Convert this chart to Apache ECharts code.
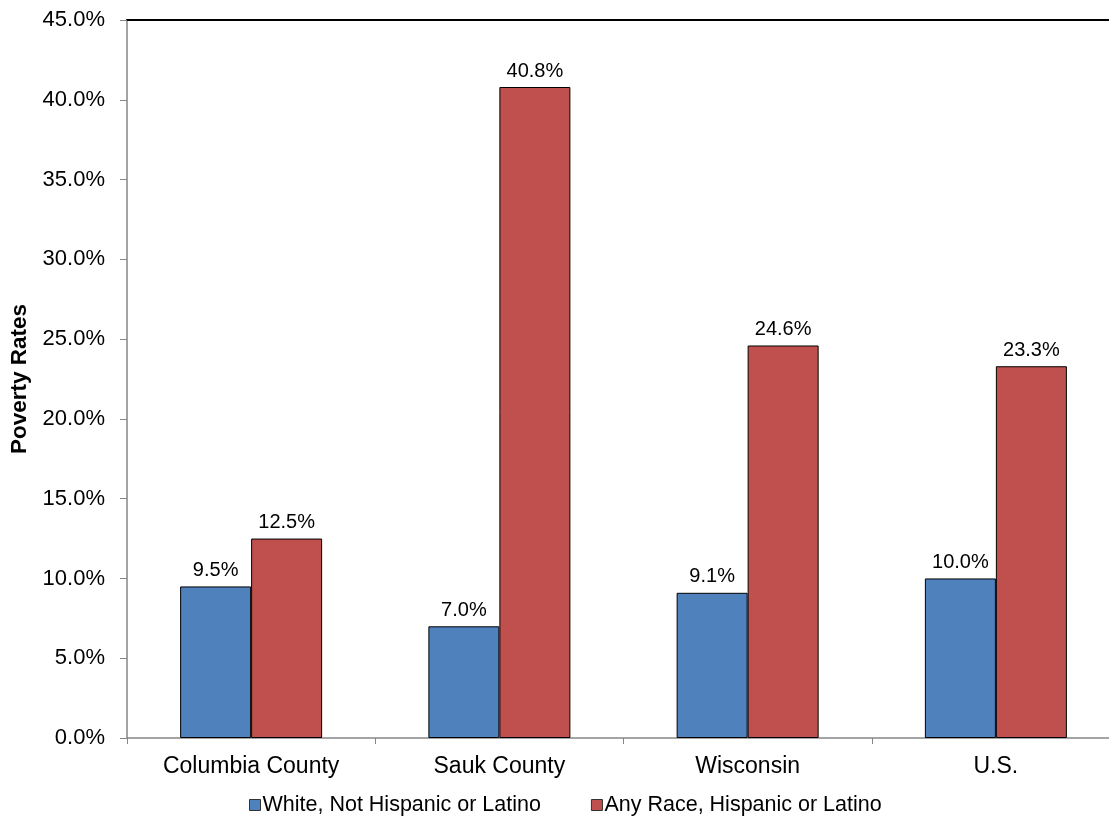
<!DOCTYPE html>
<html>
<head>
<meta charset="utf-8">
<script src="https://cdn.jsdelivr.net/npm/echarts@6/dist/echarts.min.js"></script>
<style>
html,body{margin:0;padding:0;background:#fff;overflow:hidden;}
/* the plot frame runs past the right edge of the window */
#chart{width:1120px;height:818px;}
</style>
</head>
<body>
<div id="chart"></div>
<script>
// Poverty rates by race / ethnicity
const categories = ['Columbia County', 'Sauk County', 'Wisconsin', 'U.S.'];
const seriesNames = ['White, Not Hispanic or Latino', 'Any Race, Hispanic or Latino'];
const whiteNotHispanic = [9.5, 7.0, 9.1, 10.0];
const hispanicAnyRace = [12.5, 40.8, 24.6, 23.3];
const yTicks = { min: 0, max: 45, interval: 5 };

const font = 'Liberation Sans, Arial, sans-serif';
const chart = echarts.init(document.getElementById('chart'));

function pct(v) { return Number(v).toFixed(1) + '%'; }

const barLabel = {
  show: true, position: 'top', distance: 6, fontSize: 20, color: '#000',
  fontFamily: font, formatter: p => pct(p.value)
};

chart.setOption({
  animation: false,
  textStyle: { fontFamily: font },
  grid: { left: 127, right: 0, top: 20, bottom: 80, containLabel: false },
  legend: {
    top: 789,
    left: 244,
    itemWidth: 11,
    itemHeight: 11,
    itemGap: 50,
    icon: 'rect',
    textStyle: { fontSize: 21.5, color: '#000', fontFamily: font, padding: [0, 0, 0, -3] },
    data: seriesNames.map(n => ({ name: n, itemStyle: { borderColor: '#333', borderWidth: 1 } }))
  },
  xAxis: [{
    type: 'category',
    data: categories,
    axisLine: { lineStyle: { color: '#868686', width: 1.5 } },
    axisTick: { show: true, length: 6, lineStyle: { color: '#868686' } },
    axisLabel: { fontSize: 23, color: '#000', margin: 17, fontFamily: font }
  }, {
    type: 'category',
    position: 'top',
    data: categories,
    axisLine: { show: true, lineStyle: { color: '#000', width: 2 } },
    axisTick: { show: false },
    axisLabel: { show: false }
  }],
  yAxis: {
    type: 'value',
    min: yTicks.min,
    max: yTicks.max,
    interval: yTicks.interval,
    name: 'Poverty Rates',
    nameLocation: 'middle',
    nameGap: 94,
    nameRotate: 90,
    nameTextStyle: { fontSize: 22.5, fontWeight: 'bold', color: '#000', fontFamily: font },
    axisLine: { show: true, lineStyle: { color: '#868686', width: 1.5 } },
    axisTick: { show: true, length: 7, lineStyle: { color: '#868686' } },
    splitLine: { show: false },
    axisLabel: { fontSize: 22, color: '#000', margin: 22, formatter: pct, fontFamily: font }
  },
  series: [{
    name: seriesNames[0],
    type: 'bar',
    data: whiteNotHispanic,
    barWidth: 71,
    barGap: '0%',
    itemStyle: { color: '#4F81BD', borderColor: '#000', borderWidth: 1 },
    label: barLabel
  }, {
    name: seriesNames[1],
    type: 'bar',
    data: hispanicAnyRace,
    barWidth: 71,
    barGap: '0%',
    itemStyle: { color: '#C0504D', borderColor: '#000', borderWidth: 1 },
    label: barLabel
  }]
});
</script>
</body>
</html>
